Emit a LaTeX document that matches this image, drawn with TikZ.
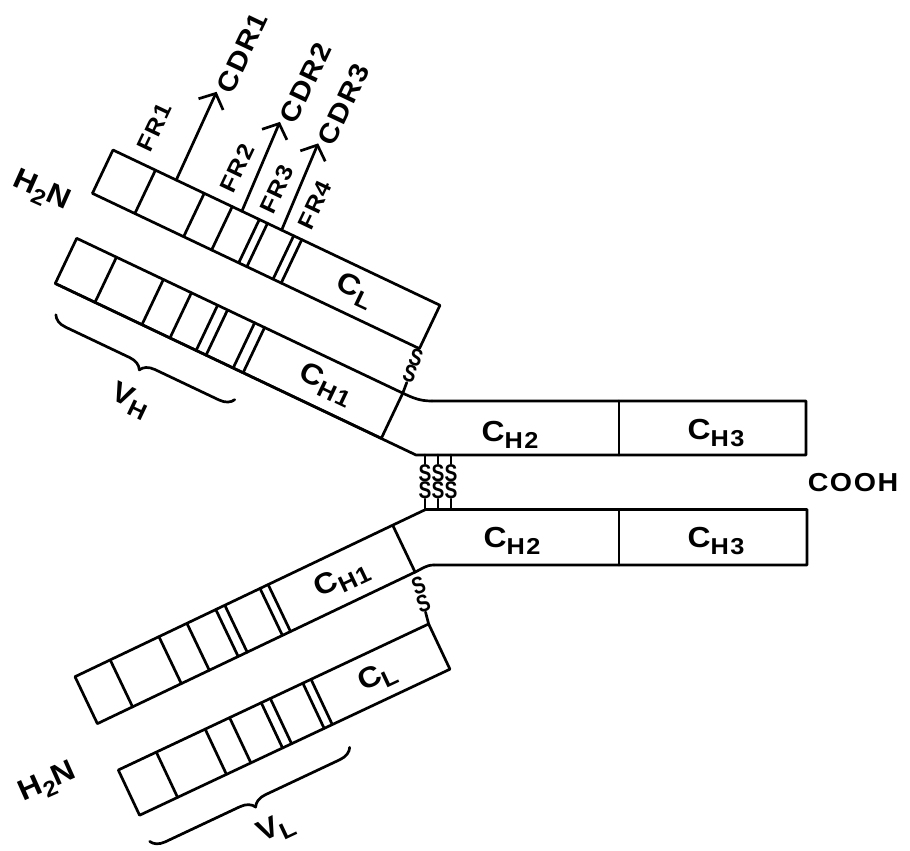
\documentclass[tikz,border=0pt]{standalone}
\usepackage{fontspec}
\newfontfamily\labfont{Liberation Sans Bold}[FakeStretch=1.1,LetterSpace=6]
\newfontfamily\sfont{Liberation Sans Bold}
\usetikzlibrary{arrows.meta,calc,decorations.pathreplacing}
\newcommand\Csub[2]{#1\raisebox{-7pt}{\fontsize{23}{23}\selectfont #2}}
\newcommand\Sg{\scalebox{0.8}[1]{S}}
\begin{document}
\begin{tikzpicture}[x=1pt,y=-1pt,
  ln/.style={line width=2.7pt, line join=round, line cap=round},
  lab/.style={font=\labfont\fontsize{23}{23}\selectfont, inner sep=0pt},
  wide/.style={font=\labfont\fontsize{27}{27}\selectfont, inner sep=0pt},
  big/.style={font=\labfont\fontsize{29}{29}\selectfont, inner sep=0pt},
  sss/.style={font=\sfont\fontsize{24}{24}\selectfont, inner sep=0pt},
  cdr/.style={ln, -{Straight Barb[length=12pt,width=27pt]}},
  brc/.style={ln, decorate, decoration={brace, amplitude=14pt, mirror}}]
\useasboundingbox (0,0) rectangle (910,851);

% ---------- upper light chain
\begin{scope}[shift={(113,150)},rotate=-25.4]
  \draw[ln] (0,0) -- (362,0) -- (362,48) -- (0,48) -- cycle;
  \foreach \d in {47,101,132,162,171,200,209} \draw[ln] (\d,0) -- (\d,48);
  \coordinate (L1br) at (362,48);
  \node[big, rotate=-25.4] (cl1) at (279,23) {\Csub{C}{L}};
  \node[lab, rotate=64.6] (fr1) at (28,-38) {FR1};
  \node[lab, rotate=64.6] (fr2) at (120,-37) {FR2};
  \node[lab, rotate=64.6] (fr3) at (165,-35) {FR3};
  \node[lab, rotate=64.6] (fr4) at (206,-37) {FR4};
  \coordinate (c1s) at (70,0);    \coordinate (c1t) at (68.6,-97);
  \coordinate (c2s) at (142.7,0); \coordinate (c2t) at (138.7,-97);
  \coordinate (c3s) at (186.7,0); \coordinate (c3t) at (182.5,-94);
  \draw[cdr] (c1s) -- (c1t);
  \draw[cdr] (c2s) -- (c2t);
  \draw[cdr] (c3s) -- (c3t);
  \node[wide, rotate=64.6, anchor=west] (cdr1) at (75,-100) {CDR1};
  \node[wide, rotate=64.6, anchor=west] (cdr2) at (145,-100) {CDR2};
  \node[wide, rotate=64.6, anchor=west] (cdr3) at (189,-97) {CDR3};
\end{scope}

% ---------- upper heavy chain
\begin{scope}[shift={(76.7,238.3)},rotate=-25.4]
  \draw[ln] (0,0) -- (361,0) -- (361,50) -- (0,50) -- cycle;
  \foreach \d in {44,96,127,156,167,197,208} \draw[ln] (\d,0) -- (\d,50);
  \coordinate (H1tr) at (361,0);
  \coordinate (H1bl) at (0,50);
  \node[big, rotate=-25.4] (ch1a) at (288,25) {\Csub{C}{H1}};
  \draw[brc] (14,78) -- (212,78);
  \node[big, rotate=-25.4] (vh) at (118,124) {\Csub{V}{H}};
\end{scope}
\draw[ln] (H1bl) -- (416,455) -- (806,455) -- (806,401) -- (432,401);
\draw[ln] (H1tr) to[out=-25.4,in=180] (432,401);
\draw[ln] (619,401) -- (619,455);
\node[big, anchor=base] (ch2a) at (510,441) {\Csub{C}{H2}};
\node[big, anchor=base] (ch3a) at (716,439) {\Csub{C}{H3}};

% ---------- lower heavy chain
\begin{scope}[shift={(75,676.7)},rotate=25.5]
  \draw[ln] (0,0) -- (352,0) -- (352,52) -- (0,52) -- cycle;
  \foreach \d in {39,93,124,156,166,205,214} \draw[ln] (\d,0) -- (\d,52);
  \coordinate (H2tr) at (352,0);
  \coordinate (H2br) at (352,52);
  \node[big, rotate=25.5] (ch1b) at (283,27) {\Csub{C}{H1}};
\end{scope}
\draw[ln] (H2tr) -- (425.6,509.5) -- (807,509.5) -- (807,565) -- (434,565);
\draw[ln] (434,565) to[out=180,in=25.5] (H2br);
\draw[ln] (619,509.5) -- (619,565);
\node[big, anchor=base] (ch2b) at (512,547) {\Csub{C}{H2}};
\node[big, anchor=base] (ch3b) at (716,547) {\Csub{C}{H3}};

% ---------- lower light chain
\begin{scope}[shift={(118.3,770)},rotate=25.2]
  \draw[ln] (0,0) -- (343,0) -- (343,50) -- (0,50) -- cycle;
  \foreach \d in {42,96,123,158,168,204,213} \draw[ln] (\d,0) -- (\d,50);
  \coordinate (L2tr) at (343,0);
  \node[big, rotate=25.2] (cl2) at (274,27) {\Csub{C}{L}};
  \draw[brc] (-2,78) -- (219,78);
  \node[big, rotate=25.2] (vl) at (118,121) {\Csub{V}{L}};
\end{scope}

% ---------- disulfide bonds
\foreach \x in {425,438,451} {
  \draw[ln] (\x,455) -- (\x,464);
  \draw[ln] (\x,499) -- (\x,509.5);
  \node[sss] at (\x,473) {\Sg};
  \node[sss] at (\x,490) {\Sg};
}
\draw[ln] ($(L1br)!0.76!(H1tr)$) -- (H1tr);
\node[sss, rotate=-18] (s1) at ($(L1br)!0.2!(H1tr)$) {\Sg};
\node[sss, rotate=-18] (s2) at ($(L1br)!0.56!(H1tr)$) {\Sg};
\draw[ln] ($(H2br)!0.77!(L2tr)$) -- (L2tr);
\node[sss, rotate=20] (s3) at ($(H2br)!0.25!(L2tr)$) {\Sg};
\node[sss, rotate=20] (s4) at ($(H2br)!0.6!(L2tr)$) {\Sg};

% ---------- end labels
\node[font=\labfont\fontsize{26}{26}\selectfont, inner sep=0pt] (cooh) at (853,483) {COOH};
\node[big, rotate=-24] (nh2a) at (41,192) {H\raisebox{-7pt}{\fontsize{22}{22}\selectfont 2}N};
\node[big, rotate=24] (nh2b) at (48,783) {H\raisebox{-7pt}{\fontsize{22}{22}\selectfont 2}N};
\end{tikzpicture}
\end{document}
